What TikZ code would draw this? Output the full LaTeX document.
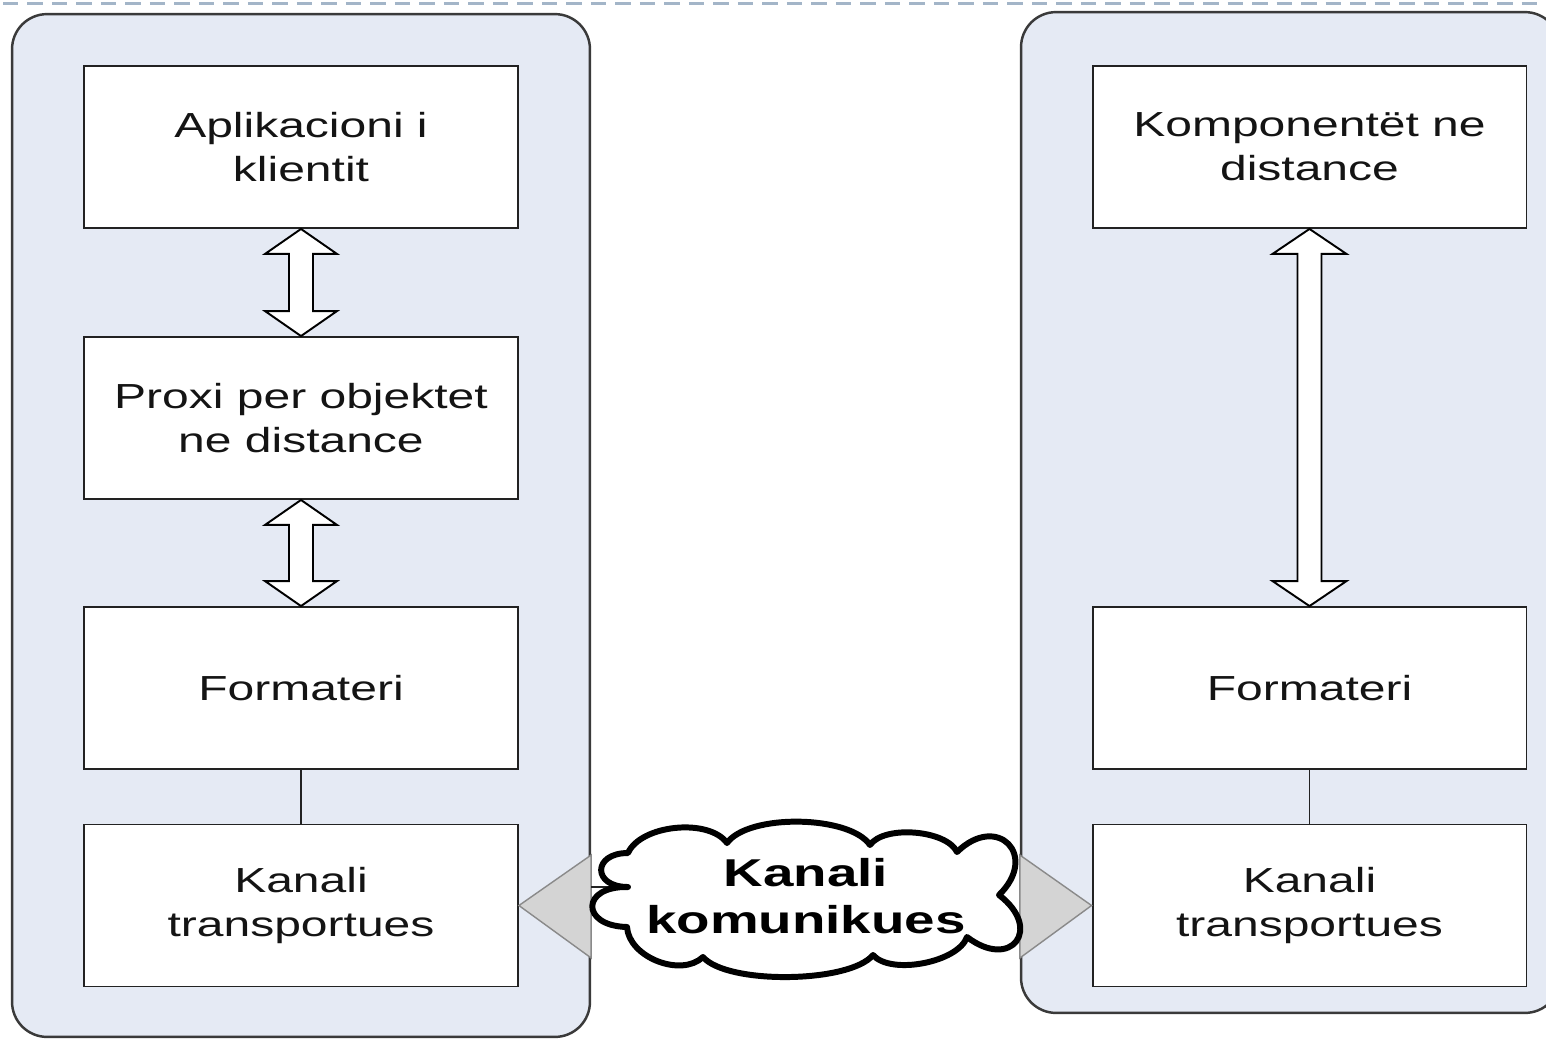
\documentclass[tikz,border=0pt]{standalone}
\usepackage{fontspec}
\usetikzlibrary{calc}
\newfontfamily\lab[FakeStretch=1.38]{Liberation Sans}
\newfontfamily\labbold[FakeStretch=1.41]{Liberation Sans Bold}
\definecolor{panelfill}{HTML}{E5EAF4}
\definecolor{panelline}{HTML}{3A3A3A}
\definecolor{boxline}{HTML}{222222}
\definecolor{trifill}{HTML}{D4D4D4}
\definecolor{triline}{HTML}{8A8A8A}
\definecolor{dashcol}{HTML}{A3B5C8}
\tikzset{
  panel/.style={draw=panelline, fill=panelfill, line width=1.4pt, rounded corners=0.7cm},
  layer/.style={draw=boxline, fill=white, line width=1.1pt, minimum width=8.68cm,
    minimum height=3.24cm, align=center, inner sep=0pt,
    font={\lab\fontsize{19.8}{24.9}\selectfont}, text=black!92},
  dbl/.style={draw=black, fill=white, line width=1.1pt, line join=miter},
  tri/.style={draw=triline, fill=trifill, line width=0.8pt},
  link/.style={draw=boxline, line width=1.1pt},
  cloudline/.style={draw=black, fill=white, line width=3.4pt, line join=round},
  puff/.style args={#1/#2}{bend left=#1, looseness=#2},
  cloudtext/.style={align=center, font={\labbold\fontsize{22.1}{26.6}\selectfont}, text=black},
  topdash/.style={draw=dashcol, line width=1.7pt, dash pattern=on 0.31cm off 0.18cm}
}
\begin{document}
\begin{tikzpicture}[x=0.02cm, y=-0.02cm]
\useasboundingbox[fill=white] (0,0) rectangle (1546,1039);
\begin{scope}
\clip (0,0) rectangle (1546,1039);
% dashed rule along the top edge
\draw[topdash] (3,3) -- (1546,3);
% client and server panels
\node[panel, minimum width=11.56cm, minimum height=20.46cm] (lc) at (301,525.5) {};
\node[panel, minimum width=10.78cm, minimum height=20.02cm] (rc) at (1290.5,512.5) {};
% client side layers
\node[layer] (a1) at (301,147) {Aplikacioni i\\klientit};
\node[layer] (p1) at (301,418) {Proxi per objektet\\ne distance};
\node[layer] (f1) at (301,688) {Formateri};
\node[layer] (k1) at (301,905.5) {Kanali\\transportues};
% server side layers
\node[layer] (c2) at (1309.5,147) {Komponentët ne\\distance};
\node[layer] (f2) at (1309.5,688) {Formateri};
\node[layer] (k2) at (1309.5,905.5) {Kanali\\transportues};
% double-headed block arrows between layers
\draw[dbl] (a1.south) -- ++(36,25) -- ++(-24,0) -- ($(p1.north)+(12,-25)$) -- ++(24,0)
  -- (p1.north) -- ++(-36,-25) -- ++(24,0) -- ($(a1.south)+(-12,25)$) -- ++(-24,0) -- cycle;
\draw[dbl] (p1.south) -- ++(36,25) -- ++(-24,0) -- ($(f1.north)+(12,-25)$) -- ++(24,0)
  -- (f1.north) -- ++(-36,-25) -- ++(24,0) -- ($(p1.south)+(-12,25)$) -- ++(-24,0) -- cycle;
\draw[dbl] (c2.south) -- ++(37,25) -- ++(-25,0) -- ($(f2.north)+(12,-25)$) -- ++(25,0)
  -- (f2.north) -- ++(-37,-25) -- ++(25,0) -- ($(c2.south)+(-12,25)$) -- ++(-25,0) -- cycle;
% plain links
\draw[link] (f1.south) -- (k1.north);
\draw[link] (f2.south) -- (k2.north);
% wedges from the transport channels to the panel edges
\draw[tri] (k1.east) -- (lc.east |- 0,855) -- (lc.east |- 0,958) -- cycle;
\draw[tri] (k2.west) -- (rc.west |- 0,855) -- (rc.west |- 0,958) -- cycle;
% communication channel cloud: valleys between the puffs
\coordinate (cA) at (628,853);
\coordinate (cB) at (727,843);
\coordinate (cD) at (870,845);
\coordinate (cE) at (957,852);
\coordinate (cF) at (999,895);
\coordinate (cG) at (967,937);
\coordinate (cH) at (873,955);
\coordinate (cJ) at (703,957);
\coordinate (cK) at (627,927);
\coordinate (cL) at (628,887);
\draw[link] (lc.east |- cL) -- (cL);
\draw[cloudline] (cA) to[puff=60/0.8] (cB) to[puff=55/0.65] (cD) to[puff=60/0.72] (cE)
  to[puff=90/2.4] (cF) to[puff=90/2.7] (cG) to[puff=60/0.72] (cH) to[puff=50/0.55] (cJ)
  to[puff=65/0.95] (cK) to[puff=90/3.0] (cL) to[puff=90/2.7] (cA) -- cycle;
\node[cloudtext] (cltxt) at (806,896) {Kanali\\komunikues};
\end{scope}
\end{tikzpicture}
\end{document}
